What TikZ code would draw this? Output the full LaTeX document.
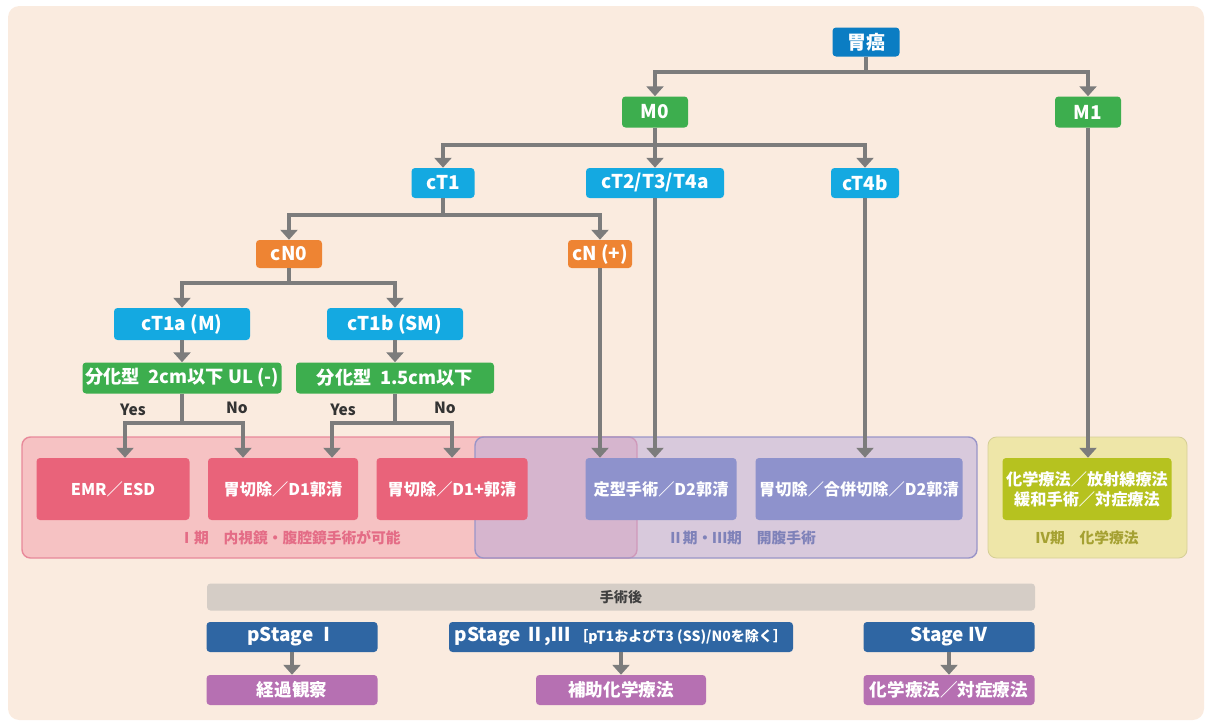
\documentclass[tikz,border=0pt]{standalone}
\usepackage{fontspec}
\setmainfont{Noto Sans CJK JP}
\usetikzlibrary{arrows.meta}

\definecolor{bgcol}{HTML}{FAEBDF}
\definecolor{gancol}{HTML}{0B7DC3}
\definecolor{grcol}{HTML}{3DAE4E}
\definecolor{ltcol}{HTML}{14A9E1}
\definecolor{orcol}{HTML}{EE8433}
\definecolor{redcol}{HTML}{E9637A}
\definecolor{redreg}{HTML}{F6C2C3}
\definecolor{redline}{HTML}{E8899A}
\definecolor{redtxt}{HTML}{E46C86}
\definecolor{purcol}{HTML}{8E92CC}
\definecolor{purreg}{HTML}{B8A9DA}
\definecolor{purline}{HTML}{9A95C8}
\definecolor{purtxt}{HTML}{7F82B9}
\definecolor{yelcol}{HTML}{B6C21F}
\definecolor{yelreg}{HTML}{EEE6A8}
\definecolor{yeltxt}{HTML}{A5A132}
\definecolor{barcol}{HTML}{D5CDC6}
\definecolor{stcol}{HTML}{2F66A3}
\definecolor{pkcol}{HTML}{B670B2}
\definecolor{arrgray}{HTML}{7C7C7C}

\tikzset{
  sz/.style 2 args={minimum width=#1*0.025cm, minimum height=#2*0.025cm},
  box/.style={rounded corners=2.5pt, text=white, inner sep=0pt,
    font=\bfseries\fontsize{13.5}{15}\selectfont},
  darkbox/.style={box, fill=gancol},
  grbox/.style={box, fill=grcol},
  ltbox/.style={box, fill=ltcol},
  orbox/.style={box, fill=orcol},
  tbox/.style={box, font=\bfseries\fontsize{11.5}{14}\selectfont},
  redbox/.style={tbox, fill=redcol},
  purbox/.style={tbox, fill=purcol},
  yelbox/.style={tbox, fill=yelcol},
  stbox/.style={box, fill=stcol},
  pkbox/.style={box, fill=pkcol, font=\bfseries\fontsize{12.5}{14}\selectfont},
  barbox/.style={box, fill=barcol, text=black!75, font=\bfseries\fontsize{10}{12}\selectfont},
  lab/.style={font=\bfseries\fontsize{10.5}{12}\selectfont, inner sep=0pt},
  yn/.style={font=\bfseries\fontsize{11}{12}\selectfont, text=black!80, inner sep=0pt},
  arr/.style={draw=arrgray, line width=3pt, -{Triangle[width=12pt,length=7pt]}},
}

\begin{document}
\begin{tikzpicture}[x=0.025cm, y=-0.025cm]
\useasboundingbox (0,0) rectangle (1211,724);
\fill[bgcol, rounded corners=8pt] (8,6) rectangle (1204,720);

% areas
\draw[fill=redreg, draw=redline, line width=1pt, rounded corners=6pt] (22,437) rectangle (637,558);
\draw[fill=purreg, fill opacity=0.5, draw=purline, line width=1pt, rounded corners=6pt] (475,437) rectangle (977,558);
\draw[fill=yelreg, draw=yelreg!90!black, line width=0.6pt, rounded corners=6pt] (988,437) rectangle (1187,558);

% tree
\node[darkbox, sz={67}{29}] (gan) at (866,42) {胃癌};
\node[grbox, sz={66}{31}] (m0) at (655,112) {M0};
\node[grbox, sz={66}{31}] (m1) at (1088,112) {M1};
\node[ltbox, sz={63}{30}] (ct1) at (443,183) {cT1};
\node[ltbox, sz={138}{30}] (ct2) at (655,183) {cT2/T3/T4a};
\node[ltbox, sz={68}{30}] (ct4b) at (865,183) {cT4b};
\node[orbox, sz={66}{28}] (cn0) at (289,254) {cN0};
\node[orbox, sz={64}{28}] (cnp) at (600,254) {cN (+)};
\node[ltbox, sz={136}{32}] (ct1a) at (182,324) {cT1a (M)};
\node[ltbox, sz={136}{32}] (ct1b) at (395,324) {cT1b (SM)};
\node[grbox, sz={199}{31}, font=\bfseries\fontsize{13}{15}\selectfont] (diffa) at (182,378) {分化型\ \ 2cm以下 UL (-)};
\node[grbox, sz={198}{31}, font=\bfseries\fontsize{13}{15}\selectfont] (diffb) at (395,378) {分化型\ \ 1.5cm以下};

\node[yn] (yesa) at (133,410) {Yes};
\node[yn] (noa) at (237,408) {No};
\node[yn] (yesb) at (343,410) {Yes};
\node[yn] (nob) at (445,408) {No};

% treatments
\node[redbox, sz={153}{62}] (emr) at (113,489) {EMR／ESD};
\node[redbox, sz={150}{62}] (done) at (283,489) {胃切除／D1郭清};
\node[redbox, sz={151}{62}] (donep) at (452,489) {胃切除／D1+郭清};
\node[purbox, sz={151}{62}] (dtwo) at (661,489) {定型手術／D2郭清};
\node[purbox, sz={207}{62}] (comb) at (859,489) {胃切除／合併切除／D2郭清};
\node[yelbox, sz={169}{62}, align=center] (chemo) at (1087,489) {化学療法／放射線療法\\緩和手術／対症療法};

\node[lab, text=redtxt] (labi) at (290,538) {Ⅰ期\quad 内視鏡・腹腔鏡手術が可能};
\node[lab, text=purtxt] (labii) at (742,538) {Ⅱ期・Ⅲ期\quad 開腹手術};
\node[lab, text=yeltxt] (labiv) at (1087,538) {Ⅳ期\quad 化学療法};

% after surgery
\node[barbox, sz={828}{27}] (post) at (621,597) {手術後};
\node[stbox, sz={171}{30}] (psi) at (292,637) {pStage Ⅰ};
\node[stbox, sz={344}{30}] (psii) at (621,637) {pStage Ⅱ,Ⅲ {\fontsize{10}{12}\selectfont［pT1およびT3 (SS)/N0を除く］}};
\node[stbox, sz={171}{30}] (psiv) at (949,637) {Stage Ⅳ};
\node[pkbox, sz={171}{30}] (obs) at (292,690) {経過観察};
\node[pkbox, sz={170}{30}] (adj) at (621,690) {補助化学療法};
\node[pkbox, sz={171}{30}] (pall) at (949,690) {化学療法／対症療法};

% arrow ends off centre
\path (emr.north) ++(12,0) coordinate (ina);
\path (done.north) ++(-40,0) coordinate (inb);
\path (done.north) ++(49,0) coordinate (inc);

% connectors
\draw[arr] (gan.south) -- ++(0,15) -| (m0.north);
\draw[arr] (gan.south) -- ++(0,15) -| (m1.north);
\draw[arr] (m0.south) -- ++(0,17) -| (ct1.north);
\draw[arr] (m0.south) -- (ct2.north);
\draw[arr] (m0.south) -- ++(0,17) -| (ct4b.north);
\draw[arr] (ct1.south) -- ++(0,17) -| (cn0.north);
\draw[arr] (ct1.south) -- ++(0,17) -| (cnp.north);
\draw[arr] (cn0.south) -- ++(0,15) -| (ct1a.north);
\draw[arr] (cn0.south) -- ++(0,15) -| (ct1b.north);
\draw[arr] (ct1a) -- (diffa);
\draw[arr] (ct1b) -- (diffb);
\draw[arr] (diffa.south) -- ++(0,29) -| (ina);
\draw[arr] (diffa.south) -- ++(0,29) -| (inb);
\draw[arr] (diffb.south) -- ++(0,29) -| (inc);
\draw[arr] (diffb.south) -- ++(0,29) -| (donep.north);
\draw[arr] (cnp.south) -- (cnp.south |- dtwo.north);
\draw[arr] (ct2.south) -- (ct2.south |- dtwo.north);
\draw[arr] (ct4b.south) -- (ct4b.south |- comb.north);
\draw[arr] (m1.south) -- (m1.south |- chemo.north);
\draw[arr] (psi) -- (obs);
\draw[arr] (psii) -- (adj);
\draw[arr] (psiv) -- (pall);
\end{tikzpicture}
\end{document}
